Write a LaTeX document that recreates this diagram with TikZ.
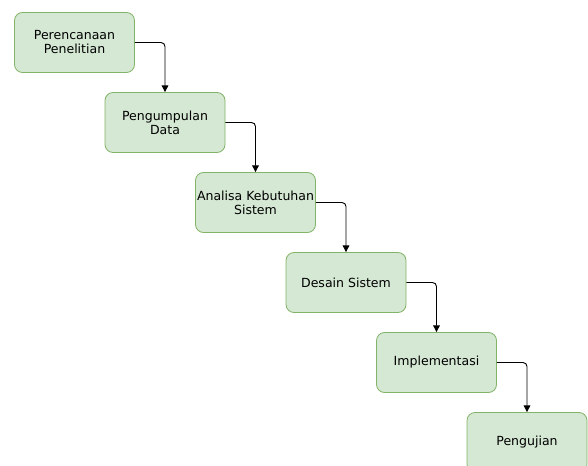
\documentclass[tikz,border=0pt]{standalone}
\usepackage{fontspec}
\setmainfont{DejaVu Sans}
\usetikzlibrary{arrows.meta}
\definecolor{boxfill}{HTML}{D5E8D4}
\definecolor{boxline}{HTML}{82B366}
\begin{document}
\begin{tikzpicture}[x=0.75pt,y=-0.75pt,
  stepbox/.style={draw=boxline, fill=boxfill, rounded corners=6pt, minimum width=90pt, minimum height=45pt, inner sep=0pt, align=center, font=\fontsize{9.4}{10.5}\selectfont, line width=0.6pt},
  link/.style={draw=black, line width=0.7pt, rounded corners=3pt, -{Triangle[length=5pt,width=5pt]}}]
\useasboundingbox (0,0) rectangle (588,466);
\clip (0,0) rectangle (588,466);
\node[stepbox] (a) at (74.5,42.5) {Perencanaan\\Penelitian};
\node[stepbox] (b) at (165,122.5) {Pengumpulan\\Data};
\node[stepbox] (c) at (255.5,202.5) {Analisa Kebutuhan\\Sistem};
\node[stepbox] (d) at (346,282.5) {Desain Sistem};
\node[stepbox] (e) at (436.5,362.5) {Implementasi};
\node[stepbox] (f) at (527,442.5) {Pengujian};
\draw[link] (a.east) -| (b.north);
\draw[link] (b.east) -| (c.north);
\draw[link] (c.east) -| (d.north);
\draw[link] (d.east) -| (e.north);
\draw[link] (e.east) -| (f.north);
\end{tikzpicture}
\end{document}
